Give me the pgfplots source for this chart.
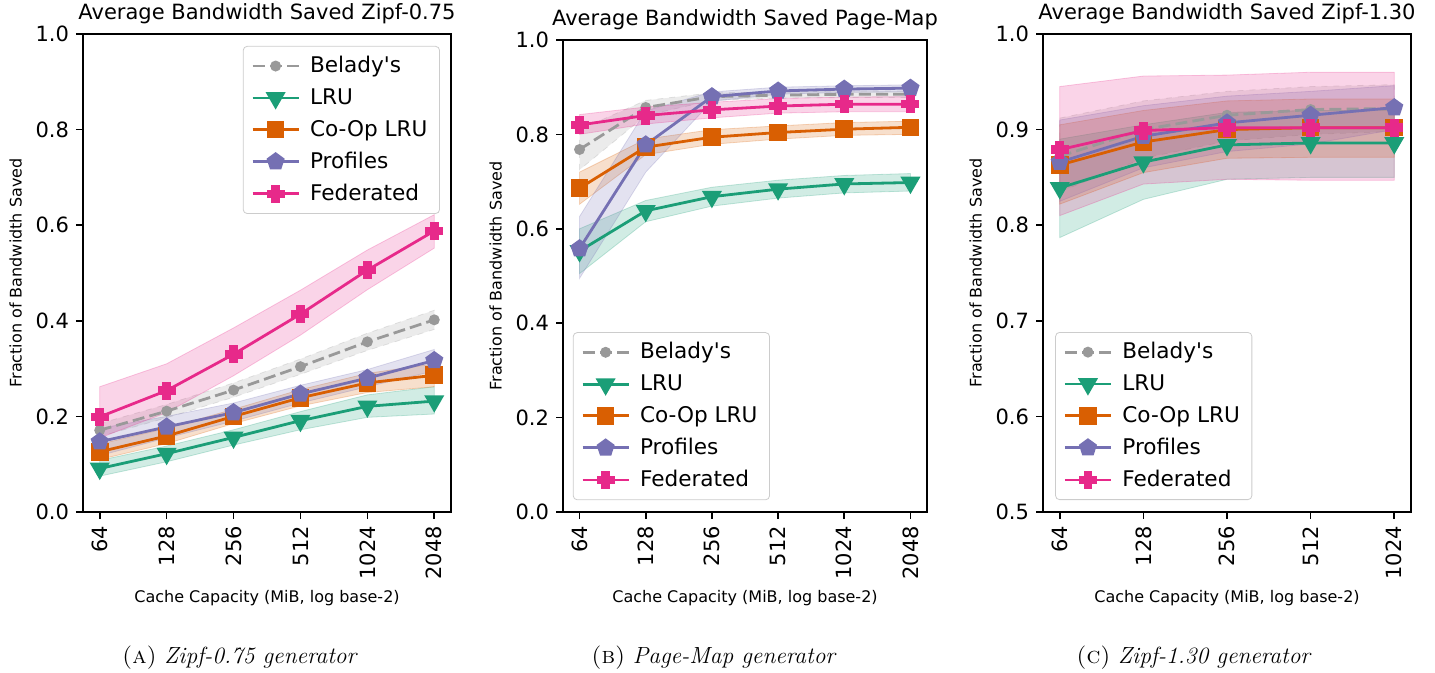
\documentclass[border=0pt]{standalone}
\usepackage{pgfplots}
\pgfplotsset{compat=1.18}
\usepackage{pgfplotstable}
\usepackage{fontspec}
\newfontfamily\dejavu{DejaVu Sans}

\definecolor{belc}{HTML}{999999}
\definecolor{lruc}{HTML}{1B9E77}
\definecolor{coopc}{HTML}{D95F02}
\definecolor{profc}{HTML}{7570B3}
\definecolor{fedc}{HTML}{E7298A}

% filled plus marker
\pgfdeclareplotmark{fatplus}{%
  \pgfmathsetlengthmacro\armw{0.38*\pgfplotmarksize}%
  \pgfpathmoveto{\pgfqpoint{\armw}{\pgfplotmarksize}}%
  \pgfpathlineto{\pgfqpoint{\armw}{\armw}}%
  \pgfpathlineto{\pgfqpoint{\pgfplotmarksize}{\armw}}%
  \pgfpathlineto{\pgfqpoint{\pgfplotmarksize}{-\armw}}%
  \pgfpathlineto{\pgfqpoint{\armw}{-\armw}}%
  \pgfpathlineto{\pgfqpoint{\armw}{-\pgfplotmarksize}}%
  \pgfpathlineto{\pgfqpoint{-\armw}{-\pgfplotmarksize}}%
  \pgfpathlineto{\pgfqpoint{-\armw}{-\armw}}%
  \pgfpathlineto{\pgfqpoint{-\pgfplotmarksize}{-\armw}}%
  \pgfpathlineto{\pgfqpoint{-\pgfplotmarksize}{\armw}}%
  \pgfpathlineto{\pgfqpoint{-\armw}{\armw}}%
  \pgfpathlineto{\pgfqpoint{-\armw}{\pgfplotmarksize}}%
  \pgfpathclose
  \pgfusepathqfillstroke
}

% mean fraction of bandwidth saved, per cache size
\pgfplotstableread{
x bel   lru   coop  prof  fed
0 0.171 0.091 0.126 0.147 0.199
1 0.211 0.122 0.159 0.178 0.254
2 0.255 0.156 0.200 0.208 0.330
3 0.304 0.191 0.239 0.247 0.414
4 0.356 0.221 0.270 0.280 0.506
5 0.402 0.232 0.286 0.317 0.588
}\zipfA
\pgfplotstableread{
x bel   lru   coop  prof  fed
0 0.768 0.553 0.686 0.558 0.820
1 0.857 0.638 0.773 0.778 0.840
2 0.880 0.668 0.794 0.880 0.852
3 0.883 0.684 0.804 0.892 0.860
4 0.885 0.695 0.811 0.896 0.864
5 0.885 0.698 0.815 0.898 0.864
}\pagemap
\pgfplotstableread{
x bel   lru   coop  prof  fed
0 0.872 0.839 0.863 0.866 0.879
1 0.900 0.866 0.887 0.893 0.899
2 0.915 0.884 0.900 0.907 0.902
3 0.921 0.886 0.902 0.915 0.902
4 0.922 0.886 0.902 0.923 0.902
}\zipfB

% shaded spread: upper edge left to right, then lower edge back
\newcommand{\band}[3][solid]{%
  \addplot[fill=#2, fill opacity=0.2, draw=#2, draw opacity=0.25, #1, forget plot]
    coordinates {#3} -- cycle;
}
% mean curves of one panel
\newcommand{\curves}[1]{%
  \addplot[belc, line width=1.4pt, dash pattern=on 6pt off 2.6pt, mark=*, mark size=2pt, mark options={solid}] table[x=x,y=bel]{#1};
  \addplot[lruc, line width=1.4pt, mark=triangle*, mark size=4.4pt, mark options={rotate=180}] table[x=x,y=lru]{#1};
  \addplot[coopc, line width=1.4pt, mark=square*, mark size=3.7pt] table[x=x,y=coop]{#1};
  \addplot[profc, line width=1.4pt, mark=pentagon*, mark size=3.9pt] table[x=x,y=prof]{#1};
  \addplot[fedc, line width=1.4pt, mark=fatplus, mark size=3.8pt] table[x=x,y=fed]{#1};
  \legend{Belady's, LRU, Co-Op LRU, Profiles, Federated}
}

\pgfplotsset{
  bwpanel/.style={
    scale only axis,
    width=184pt,
    axis line style={line width=0.8pt},
    every tick/.style={black, line width=0.8pt},
    major tick length=3.5pt,
    tick align=outside,
    xtick pos=bottom, ytick pos=left,
    xtick={0,1,2,3,4,5},
    ticklabel style={font=\dejavu\fontsize{10.5}{12}\selectfont},
    xticklabel style={rotate=90, anchor=east},
    /pgf/number format/assume math mode=true,
    yticklabel style={/pgf/number format/.cd, fixed, fixed zerofill, precision=1},
    title style={font=\dejavu\fontsize{10.5}{12}\selectfont, yshift=-4.5pt},
    xlabel={Cache Capacity (MiB, log base-2)},
    ylabel={Fraction of Bandwidth Saved},
    label style={font=\dejavu\fontsize{8}{10}\selectfont},
    xlabel style={at={(axis description cs:0.5,0)}, anchor=center, yshift=-43pt},
    legend style={font=\dejavu\fontsize{10.8}{12}\selectfont, draw=black!20,
      rounded corners=2pt, fill=white,
      row sep=2.4pt, inner xsep=4pt, inner ysep=3pt,
      /tikz/every odd column/.style={column sep=3pt}},
    legend cell align=left,
    legend image code/.code={%
      \draw[mark repeat=2, mark phase=2] plot coordinates {(0pt,0pt) (11.5pt,0pt) (23pt,0pt)};},
  }
}

\begin{document}
\begin{tikzpicture}
\useasboundingbox (0,0) rectangle (717.5pt,336.5pt);

\begin{axis}[bwpanel, at={(41.5pt,80.5pt)}, anchor=south west,
  height=239pt, xmin=-0.25, xmax=5.25, ymin=0, ymax=1,
  ytick={0,0.2,0.4,0.6,0.8,1.0},
  xticklabels={64,128,256,512,1024,2048},
  title={Average Bandwidth Saved Zipf-0.75},
  legend style={at={(0.970,0.975)}, anchor=north east}]
  \band[dashed]{belc}{(0,0.185)(1,0.225)(2,0.270)(3,0.320)(4,0.374)(5,0.422)(5,0.382)(4,0.338)(3,0.288)(2,0.240)(1,0.197)(0,0.158)}
  \band{lruc}{(0,0.108)(1,0.138)(2,0.172)(3,0.210)(4,0.245)(5,0.262)(5,0.205)(4,0.198)(3,0.172)(2,0.140)(1,0.105)(0,0.075)}
  \band{coopc}{(0,0.142)(1,0.175)(2,0.215)(3,0.256)(4,0.290)(5,0.310)(5,0.262)(4,0.250)(3,0.222)(2,0.185)(1,0.143)(0,0.110)}
  \band{profc}{(0,0.175)(1,0.200)(2,0.228)(3,0.265)(4,0.298)(5,0.340)(5,0.295)(4,0.262)(3,0.228)(2,0.190)(1,0.155)(0,0.118)}
  \band{fedc}{(0,0.262)(1,0.310)(2,0.385)(3,0.464)(4,0.548)(5,0.622)(5,0.552)(4,0.465)(3,0.370)(2,0.285)(1,0.208)(0,0.155)}
  \curves{\zipfA}
\end{axis}

\begin{axis}[bwpanel, at={(281.5pt,80.5pt)}, anchor=south west,
  width=182pt, height=236pt, xmin=-0.25, xmax=5.25, ymin=0, ymax=1,
  ytick={0,0.2,0.4,0.6,0.8,1.0},
  xticklabels={64,128,256,512,1024,2048},
  title={Average Bandwidth Saved Page-Map},
  legend style={at={(0.027,0.025)}, anchor=south west}]
  \band[dashed]{belc}{(0,0.810)(1,0.872)(2,0.888)(3,0.890)(4,0.892)(5,0.892)(5,0.878)(4,0.878)(3,0.877)(2,0.872)(1,0.840)(0,0.725)}
  \band{lruc}{(0,0.600)(1,0.660)(2,0.688)(3,0.703)(4,0.713)(5,0.717)(5,0.680)(4,0.676)(3,0.665)(2,0.648)(1,0.615)(0,0.505)}
  \band{coopc}{(0,0.720)(1,0.790)(2,0.810)(3,0.818)(4,0.825)(5,0.828)(5,0.800)(4,0.798)(3,0.790)(2,0.779)(1,0.757)(0,0.652)}
  \band{profc}{(0,0.626)(1,0.850)(2,0.890)(3,0.900)(4,0.903)(5,0.905)(5,0.890)(4,0.889)(3,0.885)(2,0.870)(1,0.720)(0,0.495)}
  \band{fedc}{(0,0.842)(1,0.858)(2,0.868)(3,0.876)(4,0.879)(5,0.880)(5,0.848)(4,0.848)(3,0.845)(2,0.835)(1,0.822)(0,0.800)}
  \curves{\pagemap}
\end{axis}

\begin{axis}[bwpanel, at={(521.5pt,80.5pt)}, anchor=south west,
  height=239pt, xmin=-0.2, xmax=4.2, ymin=0.5, ymax=1,
  ytick={0.5,0.6,0.7,0.8,0.9,1.0},
  xtick={0,1,2,3,4},
  xticklabels={64,128,256,512,1024},
  title={Average Bandwidth Saved Zipf-1.30},
  legend style={at={(0.033,0.025)}, anchor=south west}]
  \band[dashed]{belc}{(0,0.912)(1,0.930)(2,0.940)(3,0.945)(4,0.947)(4,0.898)(3,0.895)(2,0.888)(1,0.870)(0,0.835)}
  \band{lruc}{(0,0.890)(1,0.905)(2,0.918)(3,0.920)(4,0.920)(4,0.850)(3,0.850)(2,0.848)(1,0.827)(0,0.787)}
  \band{coopc}{(0,0.905)(1,0.920)(2,0.930)(3,0.932)(4,0.932)(4,0.871)(3,0.871)(2,0.870)(1,0.855)(0,0.822)}
  \band{profc}{(0,0.910)(1,0.925)(2,0.935)(3,0.940)(4,0.946)(4,0.900)(3,0.885)(2,0.877)(1,0.860)(0,0.825)}
  \band{fedc}{(0,0.945)(1,0.956)(2,0.957)(3,0.960)(4,0.960)(4,0.847)(3,0.847)(2,0.848)(1,0.843)(0,0.810)}
  \curves{\zipfB}
\end{axis}

\node[font=\fontsize{11.7}{13}\selectfont] at (120pt,7.5pt) {\textsc{(a)} \textit{Zipf-0.75 generator}};
\node[font=\fontsize{11.7}{13}\selectfont] at (357pt,7.5pt) {\textsc{(b)} \textit{Page-Map generator}};
\node[font=\fontsize{11.7}{13}\selectfont] at (597pt,7.5pt) {\textsc{(c)} \textit{Zipf-1.30 generator}};
\end{tikzpicture}
\end{document}
